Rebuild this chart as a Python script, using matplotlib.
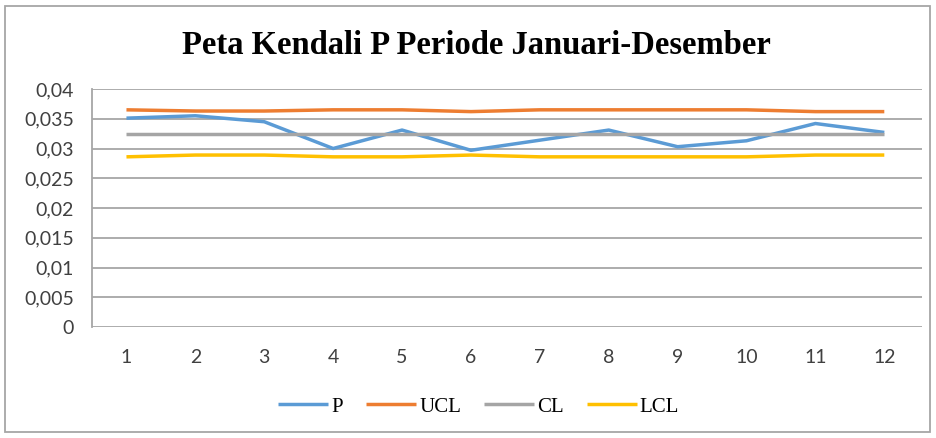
import numpy as np
import matplotlib
matplotlib.use("Agg")
import matplotlib.pyplot as plt
from matplotlib.ticker import FuncFormatter
from matplotlib.patches import Rectangle

periode = list(range(1, 13))
p = [0.0351, 0.0355, 0.0345, 0.0300, 0.0331, 0.0297, 0.0314, 0.0331, 0.0303, 0.0313, 0.0342, 0.0327]
ucl = [0.0365, 0.0363, 0.0363, 0.0365, 0.0365, 0.0362, 0.0365, 0.0365, 0.0365, 0.0365, 0.0362, 0.0362]
cl = [0.0324] * 12
lcl = [0.0286, 0.0289, 0.0289, 0.0286, 0.0286, 0.0289, 0.0286, 0.0286, 0.0286, 0.0286, 0.0289, 0.0289]

fig = plt.figure(figsize=(9.37, 4.38), dpi=100)
ax = fig.add_axes([0.0982, 0.2534, 0.886, 0.5434])

colors = {"P": "#5B9BD5", "UCL": "#ED7D31", "CL": "#A5A5A5", "LCL": "#FFC000"}
for name, vals in [("P", p), ("UCL", ucl), ("CL", cl), ("LCL", lcl)]:
    ax.plot(periode, vals, color=colors[name], lw=2.5, label=name, solid_capstyle="butt")

ax.set_xlim(0.5, 12.55)
ax.set_ylim(0, 0.04)
ax.set_yticks(np.arange(0, 0.0401, 0.005))
ax.set_xticks(periode)
ax.yaxis.set_major_formatter(FuncFormatter(lambda v, _: "0" if v == 0 else f"{v:.3f}".rstrip("0").replace(".", ",")))
ax.grid(axis="y", color="#A6A6A6", lw=1.3)
ax.set_axisbelow(True)
for s in ["top", "right", "bottom"]:
    ax.spines[s].set_visible(False)
ax.spines["left"].set_color("#A6A6A6")
ax.spines["left"].set_linewidth(1.3)
ax.tick_params(length=0, labelsize=14, colors="#404040")
ax.tick_params(axis="y", pad=13)
ax.tick_params(axis="x", pad=16)
for lab in ax.get_xticklabels() + ax.get_yticklabels():
    lab.set_family("Lato")

fig.text(0.509, 0.897, "Peta Kendali P Periode Januari-Desember", ha="center", va="center",
         family="Liberation Serif", fontweight="bold", fontsize=23.5)

leg = fig.legend(loc="center", bbox_to_anchor=(0.511, 0.071), ncol=4, frameon=False,
                 prop={"family": "Liberation Serif", "size": 15}, handlelength=2.4,
                 handletextpad=0.15, columnspacing=1.1)

fig.patches.append(Rectangle((5 / 937, 6 / 438), 925 / 937, 426 / 438, transform=fig.transFigure,
                             fill=False, edgecolor="#A6A6A6", lw=1.3))

plt.savefig("out.png", dpi=100)
